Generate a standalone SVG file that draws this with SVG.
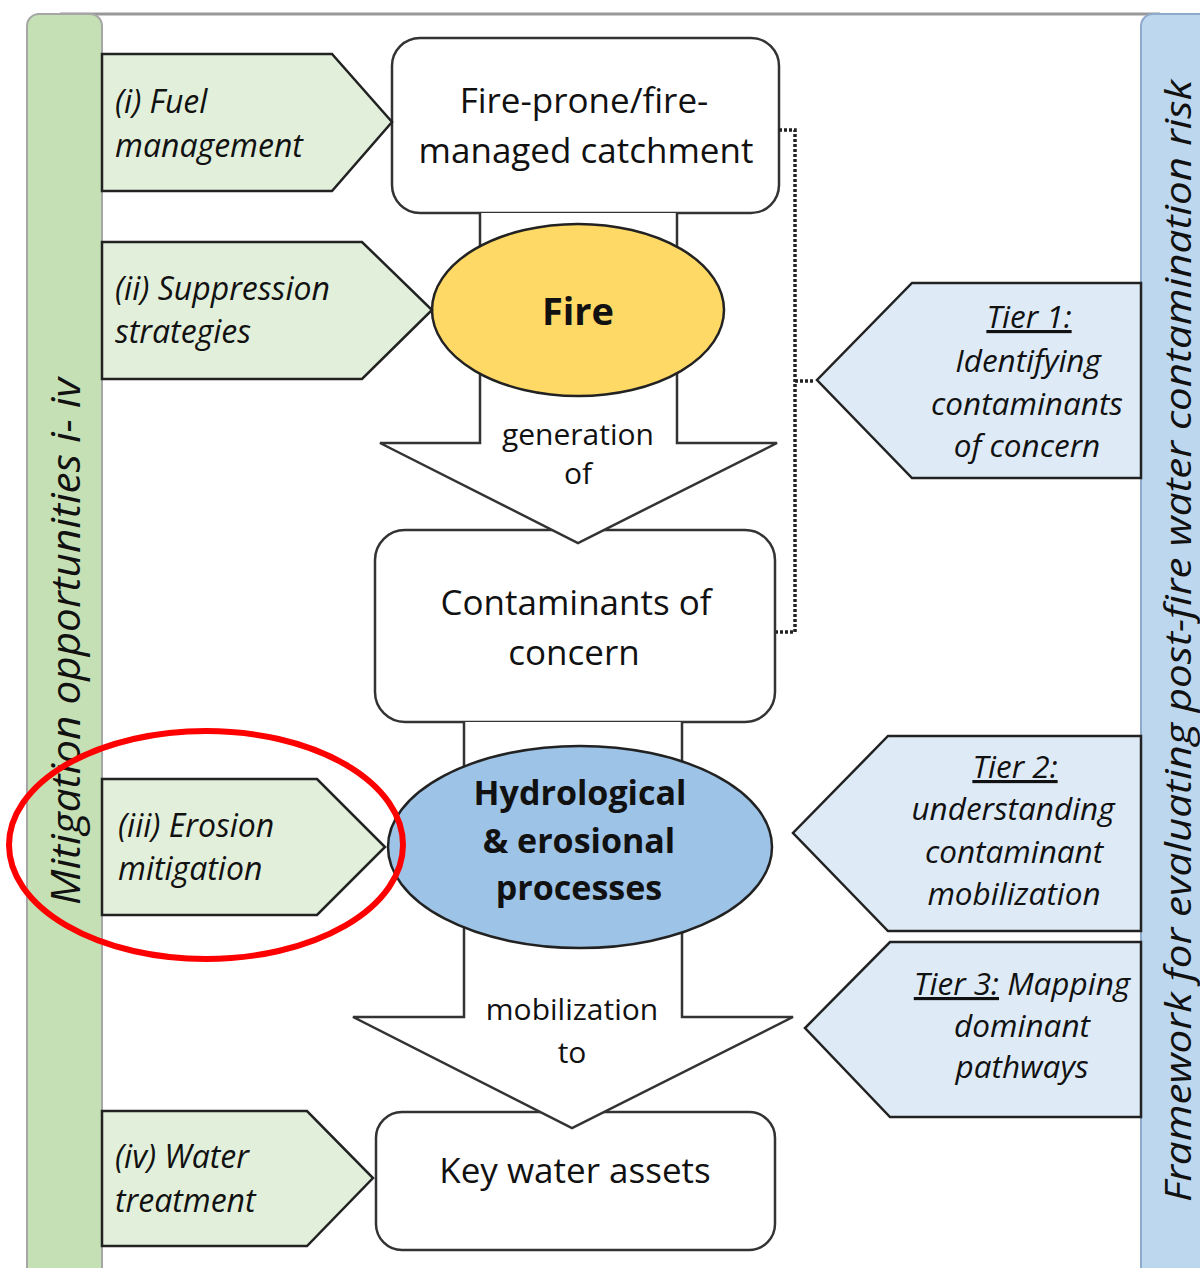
<svg xmlns="http://www.w3.org/2000/svg" width="1200" height="1268" viewBox="0 0 1200 1268">
<style>
text{font-family:"Open Sans","Liberation Sans",sans-serif;fill:#111}
.box{fill:#fff;stroke:#333;stroke-width:2.5}
.arrow{fill:#fff;stroke:#333;stroke-width:2.5;stroke-linejoin:miter}
.gp{fill:#e2efda;stroke:#222;stroke-width:2.5}
.bp{fill:#deebf7;stroke:#222;stroke-width:2.5}
.lt{font-size:32px;font-style:italic}
.tt{font-size:31.5px;font-style:italic;text-anchor:middle}
.mt{font-size:35px;text-anchor:middle}
.bt{font-size:34px;font-weight:bold;text-anchor:middle}
.at{font-size:30px;text-anchor:middle}
.ul{text-decoration:underline}
</style>
<rect width="1200" height="1268" fill="#fff"/>
<line x1="60" y1="14" x2="1160" y2="14" stroke="#999" stroke-width="3"/>
<g id="left-bar">
<rect x="27" y="14" width="75" height="1270" rx="12" fill="#c5e0b4" stroke="#a6a6a6" stroke-width="2"/>
<text transform="translate(80,905) rotate(-90)" font-size="40" font-style="italic" textLength="527" lengthAdjust="spacingAndGlyphs">Mitigation opportunities i- iv</text>
</g>
<g id="right-bar">
<rect x="1141" y="14" width="80" height="1270" rx="12" fill="#bdd7ee" stroke="#8eaacb" stroke-width="2"/>
<text transform="translate(1191,1202) rotate(-90)" font-size="37" font-style="italic" textLength="1122" lengthAdjust="spacingAndGlyphs">Framework for evaluating post-fire water contamination risk</text>
</g>
<g id="catchment">
<rect class="box" x="392" y="38" width="387" height="175" rx="28"/>
<text class="mt" x="584" y="113">Fire-prone/fire-</text>
<text class="mt" x="586" y="163">managed catchment</text>
</g>
<g id="contaminants">
<rect class="box" x="375" y="530" width="400" height="192" rx="30"/>
<text class="mt" x="576" y="615">Contaminants of</text>
<text class="mt" x="574" y="665">concern</text>
</g>
<g id="assets">
<rect class="box" x="376" y="1112" width="399" height="138" rx="26"/>
<text class="mt" x="575" y="1183">Key water assets</text>
</g>
<g id="connectors">
<path class="arrow" d="M480,213 V443 H380 L578,543 L777,443 H677 V213"/>
<path class="arrow" d="M464,722 V1017 H353 L572,1128 L793,1017 H682 V722"/>
<path d="M779,130 H795 V632 H776 M795,381 H815" fill="none" stroke="#222" stroke-width="3.5" stroke-dasharray="3 2"/>
</g>
<g id="arrow-label-1">
<text class="at" x="578" y="445">generation</text>
<text class="at" x="578" y="484">of</text>
</g>
<g id="arrow-label-2">
<text class="at" x="572" y="1020">mobilization</text>
<text class="at" x="572" y="1063">to</text>
</g>
<g id="fire">
<ellipse cx="578" cy="310" rx="146" ry="86" fill="#ffd966" stroke="#222" stroke-width="2.5"/>
<text class="bt" x="578" y="325" style="font-size:38px">Fire</text>
</g>
<g id="hydro">
<ellipse cx="580" cy="847" rx="192" ry="101" fill="#9dc3e6" stroke="#222" stroke-width="2.5"/>
<text class="bt" x="580" y="805">Hydrological</text>
<text class="bt" x="579" y="853">&amp; erosional</text>
<text class="bt" x="579" y="900">processes</text>
</g>
<g id="m1">
<polygon class="gp" points="102,54 332,54 392,122 332,191 102,191"/>
<text class="lt" x="115" y="113">(i) Fuel</text>
<text class="lt" x="115" y="157">management</text>
</g>
<g id="m2">
<polygon class="gp" points="102,242 362,242 432,310 362,379 102,379"/>
<text class="lt" x="115" y="300">(ii) Suppression</text>
<text class="lt" x="115" y="343">strategies</text>
</g>
<g id="m3">
<polygon class="gp" points="102,779 317,779 385,847 317,915 102,915"/>
<text class="lt" x="118" y="837">(iii) Erosion</text>
<text class="lt" x="118" y="880">mitigation</text>
</g>
<g id="m4">
<polygon class="gp" points="102,1111 307,1111 373,1178 307,1246 102,1246"/>
<text class="lt" x="115" y="1168">(iv) Water</text>
<text class="lt" x="115" y="1212">treatment</text>
</g>
<g id="tier1">
<polygon class="bp" points="1141,283 912,283 817,380 912,478 1141,478"/>
<text class="tt" x="1029" y="328"><tspan class="ul">Tier 1:</tspan></text>
<text class="tt" x="1028" y="372">Identifying</text>
<text class="tt" x="1027" y="415">contaminants</text>
<text class="tt" x="1027" y="457">of concern</text>
</g>
<g id="tier2">
<polygon class="bp" points="1141,736 888,736 793,833 888,931 1141,931"/>
<text class="tt" x="1015" y="778"><tspan class="ul">Tier 2:</tspan></text>
<text class="tt" x="1013" y="820">understanding</text>
<text class="tt" x="1014" y="863">contaminant</text>
<text class="tt" x="1014" y="905">mobilization</text>
</g>
<g id="tier3">
<polygon class="bp" points="1141,942 890,942 805,1028 890,1117 1141,1117"/>
<text class="tt" x="1022" y="995"><tspan class="ul">Tier 3:</tspan> Mapping</text>
<text class="tt" x="1022" y="1037">dominant</text>
<text class="tt" x="1022" y="1078">pathways</text>
</g>
<g id="highlight">
<ellipse cx="206" cy="845" rx="197" ry="114" fill="none" stroke="#ff0000" stroke-width="6"/>
</g>
</svg>
